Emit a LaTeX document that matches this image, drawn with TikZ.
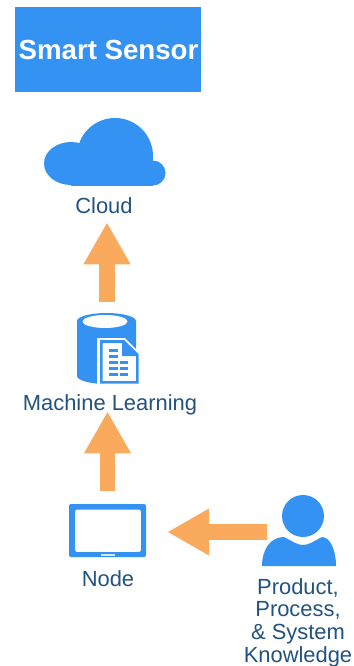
\documentclass[tikz,border=0pt]{standalone}
\usepackage{fontspec}
\setmainfont{Liberation Sans}
\usetikzlibrary{arrows.meta,positioning}
\definecolor{iconblue}{HTML}{3392F2}
\definecolor{textblue}{HTML}{22527F}
\definecolor{arroworange}{HTML}{FAAA5C}
\begin{document}
\begin{tikzpicture}[x=0.03cm,y=-0.03cm,
	label/.style={inner sep=0pt,text=textblue,font=\fontsize{18.7}{19}\selectfont},
	icon/.style={inner sep=0pt,minimum width=#1},
	flow/.style={-{Triangle[length=1.26cm,width=1.32cm]},line width=0.47cm,arroworange}]
	\useasboundingbox (0,0) rectangle (353,666);
	\node[fill=iconblue,minimum width=5.58cm,minimum height=2.55cm,inner sep=0pt,text=white,font=\fontsize{23.6}{25}\selectfont\bfseries] (title) at (108,49.5) {\hspace{0.03cm}Smart Sensor};
	% cloud
	\node[icon=3.66cm,minimum height=2.01cm] (cloud) at (105,151.5) {};
	\begin{scope}
		\clip (0,100) rectangle (353,185.5);
		\fill[iconblue] (115,156) circle [radius=38];
		\fill[iconblue] (71,163.5) ellipse [x radius=27,y radius=21.5];
		\fill[iconblue] (153,173) circle [radius=12.5];
		\fill[iconblue] (71,165) rectangle (153,185.5);
	\end{scope}
	\node[label] (cloudlabel) at (104,206) {Cloud};
	% database
	\node[icon=1.8cm,minimum height=2.13cm] (db) at (107,348.5) {};
	\fill[iconblue] (77,321) arc [start angle=180,end angle=360,x radius=29.5,y radius=8] -- (136,376) arc [start angle=0,end angle=180,x radius=29.5,y radius=8] -- cycle;
	\fill[white] (105,321.5) ellipse [x radius=22.5,y radius=6.5];
	\fill[white] (97,338) -- (125,338) -- (140,353) -- (140,386) -- (97,386) -- cycle;
	\fill[iconblue,even odd rule] (100,340) -- (124,340) -- (138.5,354) -- (138.5,383.5) -- (100,383.5) -- cycle
		(102.5,343) -- (102.5,381) -- (136,381) -- (136,356) -- (122,356) -- (122,343) -- cycle;
	\foreach \y/\xa/\xb in {349/109/118,355/109/118,361/109/118,361/120/128,367/109/118,367/120/128,373/109/118,373/120/128}
		\fill[iconblue] (\xa,\y) rectangle (\xb,\y+3);
	% tablet
	\node[icon=2.31cm,minimum height=1.59cm] (tablet) at (107.5,530.5) {};
	\fill[iconblue,rounded corners=0.06cm,even odd rule] (69,504) rectangle (146,557) (75,509.5) rectangle (141,552);
	\fill[white!80!iconblue] (101,553.5) rectangle (115,555.5);
	\node[label] (nodelabel) at (108,579) {Node};
	% person
	\node[icon=1.92cm,minimum height=2.04cm] (person) at (299,532) {};
	\fill[iconblue] (303,516) circle [radius=21];
	\fill[iconblue] (262,566) .. controls (262,550) and (270,537) .. (284,537) .. controls (292,541) and (297,545) .. (303,545) .. controls (309,545) and (314,541) .. (322,537) .. controls (330,537) and (336,550) .. (336,566) -- cycle;
	\node[label,align=center] (personlabel) at (298,622.5) {Product,\\[0.3pt]Process,\\[0.3pt]\& System\\[0.3pt]Knowledge};
	\node[label] (mllabel) at (110,405) {Machine Learning};
	% arrows
	\draw[flow,shorten <=0.33cm,shorten >=0.24cm] (db.north) -- (db.north |- cloudlabel.south);
	\draw[flow,shorten <=0.39cm,shorten >=-0.12cm] (tablet.north) -- (tablet.north |- mllabel.south);
	\draw[flow,shorten >=0.63cm] (person.west) -- (person.west -| tablet.east);
\end{tikzpicture}
\end{document}
